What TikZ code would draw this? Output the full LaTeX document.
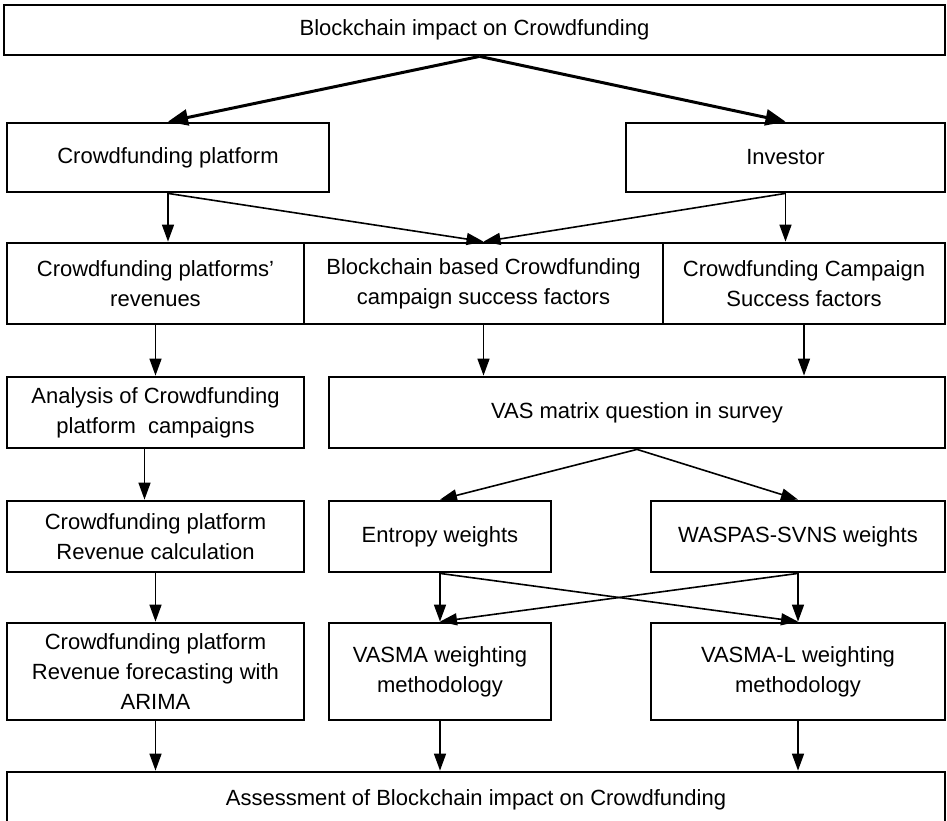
\documentclass[tikz,border=0pt]{standalone}
\usepackage{fontspec}
\setmainfont{Liberation Sans}
\usetikzlibrary{arrows.meta}
\tikzset{
  stepbox/.style = {
    rectangle,
    draw=black,
    fill=white,
    text=black,
    font=\fontsize{22}{30}\selectfont,
    align=center,
    inner sep=0pt,
    line width=2.8pt
  },
  flowarrow/.style = {
    -{Triangle[length=17pt, width=12pt]},
    line width=1.6pt,
    draw=black
  },
  mainarrow/.style = {
    -{Triangle[length=20pt, width=16pt]},
    line width=3pt,
    draw=black
  }
}

\begin{document}
\begin{tikzpicture}[x=1pt, y=-1pt]
  \clip (0,0) rectangle (947,821);

  % Top
  \node[stepbox, minimum width=941pt, minimum height=50pt] at (474.5,30) (impact) {Blockchain impact on Crowdfunding};

  % Actors
  \node[stepbox, minimum width=322pt, minimum height=69pt] at (168,157.5) (platform) {Crowdfunding platform};
  \node[stepbox, minimum width=319pt, minimum height=69pt] at (785.5,157.5) (investor) {Investor};

  % Factors row
  \node[stepbox, minimum width=297pt, minimum height=81pt] at (155.5,283.5) (revenues) {Crowdfunding platforms'\\revenues};
  \node[stepbox, minimum width=359pt, minimum height=81pt] at (483.5,283.5) (bcfactors) {Blockchain based Crowdfunding\\campaign success factors};
  \node[stepbox, minimum width=282pt, minimum height=81pt] at (804,283.5) (cfactors) {Crowdfunding Campaign\\Success factors};

  % Left column
  \node[stepbox, minimum width=297pt, minimum height=71pt] at (155.5,412.5) (analysis) {Analysis of Crowdfunding\\platform~ campaigns};
  \node[stepbox, minimum width=297pt, minimum height=71pt] at (155.5,536.5) (revcalc) {Crowdfunding platform\\Revenue calculation};
  \node[stepbox, minimum width=297pt, minimum height=97pt] at (155.5,671.5) (forecast) {Crowdfunding platform\\Revenue forecasting with\\ARIMA};

  % Survey and weights
  \node[stepbox, minimum width=616pt, minimum height=71pt] at (637,412.5) (vas) {VAS matrix question in survey};
  \node[stepbox, minimum width=222pt, minimum height=71pt] at (440,536.5) (entropy) {Entropy weights};
  \node[stepbox, minimum width=294pt, minimum height=71pt] at (798,536.5) (waspas) {WASPAS-SVNS weights};
  \node[stepbox, minimum width=222pt, minimum height=97pt] at (440,671.5) (vasma) {VASMA weighting\\methodology};
  \node[stepbox, minimum width=294pt, minimum height=97pt] at (798,671.5) (vasmal) {VASMA-L weighting\\methodology};

  % Bottom
  \node[stepbox, minimum width=938pt, minimum height=56pt] at (476,800) (assess) {Assessment of Blockchain impact on Crowdfunding};

  % Arrows
  \draw[mainarrow] ([xshift=5pt]impact.south) -- (platform.north);
  \draw[mainarrow] ([xshift=5pt]impact.south) -- (investor.north);

  \draw[flowarrow] (platform.south) -- (platform.south |- revenues.north);
  \draw[flowarrow] (platform.south) -- (bcfactors.north);
  \draw[flowarrow] (investor.south) -- (bcfactors.north);
  \draw[flowarrow] (investor.south) -- (investor.south |- cfactors.north);

  \draw[flowarrow] (revenues.south) -- (revenues.south |- analysis.north);
  \draw[flowarrow] (bcfactors.south) -- (bcfactors.south |- vas.north);
  \draw[flowarrow] (cfactors.south) -- (cfactors.south |- vas.north);

  \draw[flowarrow] ([xshift=-11pt]analysis.south) -- ([xshift=-11pt]revcalc.north);
  \draw[flowarrow] (vas.south) -- (entropy.north);
  \draw[flowarrow] (vas.south) -- (waspas.north);

  \draw[flowarrow] (revcalc.south) -- (forecast.north);
  \draw[flowarrow] (entropy.south) -- (vasma.north);
  \draw[flowarrow] (entropy.south) -- (vasmal.north);
  \draw[flowarrow] (waspas.south) -- (vasmal.north);
  \draw[flowarrow] (waspas.south) -- (vasma.north);

  \draw[flowarrow] (forecast.south) -- (forecast.south |- assess.north);
  \draw[flowarrow] (vasma.south) -- (vasma.south |- assess.north);
  \draw[flowarrow] (vasmal.south) -- (vasmal.south |- assess.north);
\end{tikzpicture}
\end{document}
